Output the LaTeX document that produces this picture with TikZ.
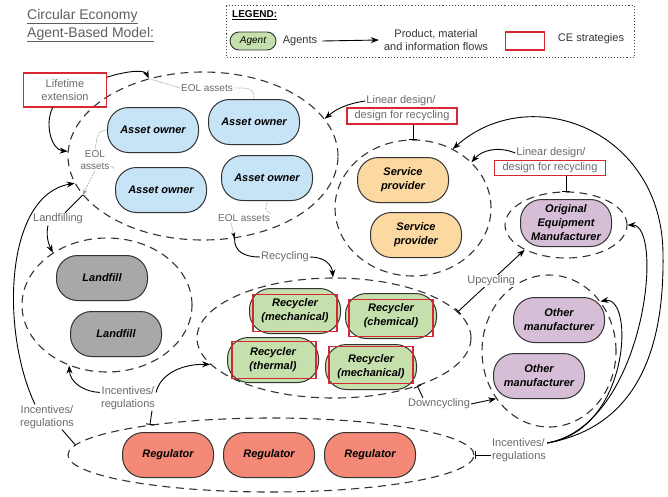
\documentclass[tikz,border=0pt]{standalone}
\usepackage{fontspec}
\setmainfont{Liberation Sans}
\usetikzlibrary{shapes.geometric,arrows.meta,calc}
\definecolor{aoblue}{RGB}{199,228,246}
\definecolor{sporange}{RGB}{252,217,160}
\definecolor{lfgray}{RGB}{168,168,168}
\definecolor{regreen}{RGB}{197,224,172}
\definecolor{mfpurple}{RGB}{214,191,214}
\definecolor{rgsalmon}{RGB}{244,137,120}
\definecolor{cered}{RGB}{214,40,50}
\definecolor{labgray}{RGB}{105,105,105}
\definecolor{titlegray}{RGB}{95,95,95}
\newcommand\agfont{\fontsize{11}{14}\selectfont\bfseries\itshape}
\newcommand\lbfont{\fontsize{11}{12.5}\selectfont}
\newcommand\eolfont{\fontsize{10}{11.5}\selectfont}
\tikzset{
  agent/.style={draw=black!80, line width=1pt, rounded corners=21pt, minimum width=91pt, minimum height=45pt, inner sep=1pt, align=center, font=\agfont},
  grp/.style={ellipse, draw=black!80, dash pattern=on 8pt off 5.5pt, line width=1.1pt, inner sep=0pt},
  lab/.style={font=\lbfont, text=labgray, align=center, inner sep=1pt},
  eol/.style={font=\eolfont, text=labgray, align=center, inner sep=1pt},
  cebox/.style={draw=cered, line width=1.1pt},
  arr/.style={-{Stealth[length=8pt,width=6pt]}, line width=0.9pt},
  blk/.style={line width=0.9pt},
  gline/.style={draw=gray!80, densely dotted, line width=0.8pt},
  bartip/.tip={Bar[width=8pt,line width=0.9pt]}
}
\begin{document}
\begin{tikzpicture}[x=1pt,y=-1pt]
\useasboundingbox (0,0) rectangle (668,496);

% title
\node[anchor=north west, font=\fontsize{14}{18}\selectfont, text=titlegray, align=left, inner sep=0] (T) at (27,9) {\underline{Circular Economy}\\\underline{Agent-Based Model:}};

% legend
\node[draw=black!70, dotted, line width=1.1pt, minimum width=408pt, minimum height=52pt, anchor=north west, inner sep=0] (LG) at (226,5) {};
\node[anchor=west, font=\fontsize{10}{12}\selectfont\bfseries, inner sep=0] (LGt) at (232,15) {\underline{LEGEND:}};
\node[agent, fill=regreen, minimum width=46pt, minimum height=18pt, rounded corners=9pt, font=\fontsize{10}{12}\selectfont\itshape, line width=0.9pt] (LA) at (253,41) {Agent};
\node[lab, text=black!80] (LAt) at (300,41) {Agents};
\node[lab, text=black!80] (LP) at (436,40) {Product, material\\and information flows};
\draw[arr] (LAt.east) ++(4,0) -- ($(LP.west)+(-4,0)$);
\node[cebox, minimum width=39pt, minimum height=18pt] (LC) at (525,41) {};
\node[lab, text=black!80] (LCt) at (591,39) {CE strategies};

% group ellipses
\node[grp, minimum width=270pt, minimum height=168pt] (AO) at (203,156) {};
\node[grp, minimum width=170pt, minimum height=134pt] (LF) at (107,305) {};
\node[grp, minimum width=274pt, minimum height=120pt] (RE) at (334,338) {};
\node[grp, minimum width=156pt, minimum height=136pt] (SP) at (413,208) {};
\node[grp, minimum width=122pt, minimum height=66pt] (OE) at (566,225) {};
\node[grp, minimum width=134pt, minimum height=152pt] (OM) at (549,351) {};
\node[grp, minimum width=406pt, minimum height=74pt] (RG) at (271,455) {};

% agents
\node[agent, fill=aoblue] (A1) at (153,130) {Asset owner};
\node[agent, fill=aoblue] (A2) at (254,122) {Asset owner};
\node[agent, fill=aoblue] (A3) at (161,190) {Asset owner};
\node[agent, fill=aoblue] (A4) at (267,178) {Asset owner};
\node[agent, fill=lfgray] (L1) at (102,278) {Landfill};
\node[agent, fill=lfgray] (L2) at (116,334) {Landfill};
\node[agent, fill=regreen] (R1) at (295,311) {Recycler\\(mechanical)};
\node[agent, fill=regreen] (R2) at (391,316) {Recycler\\(chemical)};
\node[agent, fill=regreen] (R3) at (273,360) {Recycler\\(thermal)};
\node[agent, fill=regreen] (R4) at (371,367) {Recycler\\(mechanical)};
\node[cebox, minimum width=84pt, minimum height=37pt, inner sep=0] (R1b) at ($(R1)+(0,2)$) {};
\node[cebox, minimum width=84pt, minimum height=37pt, inner sep=0] (R2b) at ($(R2)+(0,2)$) {};
\node[cebox, minimum width=84pt, minimum height=37pt, inner sep=0] (R3b) at ($(R3)+(1,0)$) {};
\node[cebox, minimum width=84pt, minimum height=37pt, inner sep=0] (R4b) at ($(R4)+(0,-2)$) {};
\node[agent, fill=sporange] (S1) at (403,180) {Service\\provider};
\node[agent, fill=sporange] (S2) at (416,235) {Service\\provider};
\node[agent, fill=mfpurple, minimum height=47pt] (OEM) at (566,223) {Original\\Equipment\\Manufacturer};
\node[agent, fill=mfpurple] (M1) at (559,320) {Other\\manufacturer};
\node[agent, fill=mfpurple] (M2) at (539,376) {Other\\manufacturer};
\node[agent, fill=rgsalmon] (G1) at (168,455) {Regulator};
\node[agent, fill=rgsalmon] (G2) at (269,455) {Regulator};
\node[agent, fill=rgsalmon] (G3) at (370,455) {Regulator};

% strategy boxes and labels
\node[cebox, lab, minimum width=83pt, minimum height=34pt] (LT) at (65,90) {Lifetime\\extension};
\node[lab] (LD1) at (401,101) {Linear design/};
\node[cebox, lab, minimum width=110pt, minimum height=16pt] (DR1) at (402,116) {design for recycling};
\node[lab] (LD2) at (551,153) {Linear design/};
\node[cebox, lab, minimum width=111pt, minimum height=15pt] (DR2) at (550,168) {design for recycling};
\node[eol] (E1) at (207,88) {EOL assets};
\node[eol] (E2) at (95,160) {EOL\\assets};
\node[eol] (E3) at (244,218) {EOL assets};
\node[lab] (LFL) at (58,219) {Landfilling};
\node[lab] (REC) at (285,257) {Recycling};
\node[lab] (DN) at (439,404) {Downcycling};
\node[lab, align=left] (IR) at (519,450) {Incentives/\\regulations};
\node[lab] (IM) at (128,398) {Incentives/\\regulations};
\node[lab] (IL) at (47,417) {Incentives/\\regulations};
\coordinate (IRs) at ($(IR.east)+(0,-7)$);

% lifetime extension
\draw[arr] (LT.17) .. controls (130,70) and (145,70) .. (AO.125);
\draw[arr] (LT.235) .. controls (44,125) and (52,150) .. (AO.178);
\draw[gline] (A2.north) .. controls (254,88) and (250,88) .. (E1.east);
\draw[gline] (E1.west) -- (AO.125);
\draw[gline] (A1.west) .. controls (97,130) and (97,138) .. (E2.north);
\draw[gline] ($(E2.east)+(0,6)$) -- (A3.155);
\draw[gline,-{Stealth[length=6pt,width=4pt]}] (E2.south) -- (AO.198);

% landfilling
\draw[blk] (AO.198) -- ($(LFL.north)+(7,0)$);
\draw[arr] ($(LFL.south)+(-10,0)$) .. controls (46,235) and (48,243) .. (LF.136);

% recycling
\draw[gline] (A4.south) .. controls (267,208) and (262,210) .. (E3.north east);
\draw[gline,-{Stealth[length=6pt,width=4pt,black]}] ($(E3.south west)+(14,0)$) -- (AO.291);
\draw[blk] (AO.291) .. controls (234,252) and (245,257) .. (REC.west);
\draw[arr] (REC.east) .. controls (325,257) and (332,265) .. (RE.91);

% linear design
\draw[arr] (LD1.west) .. controls (345,104) and (335,110) .. (AO.17);
\draw[blk,-bartip] (DR1.south -| SP.north) -- (SP.north);
\draw[arr] (LD2.west) .. controls (498,146) and (482,150) .. (SP.38);
\draw[blk,-bartip] (DR2.south -| OE.north) -- (OE.north);

% up / downcycling
\draw[blk,{bartip}-{Stealth[length=8pt,width=6pt]}] (RE.12) -- node[lab, fill=white, pos=0.5] (UP) {Upcycling} (OE.211);
\draw[blk,{bartip}-] (RE.330) -- ($(DN.north west)+(16,0)$);
\draw[arr] (DN.east) -- (OM.222);

% incentives / regulations
\draw[blk,{bartip}-] (RG.0) -- (RG.0 -| IR.west);
\draw[arr] (IRs) .. controls (645,425) and (665,225) .. (OE.0);
\draw[arr] (IRs) .. controls (630,430) and (635,295) .. (OM.44);
\draw[arr] (IRs) .. controls (648,425) and (664,330) .. (663,255) .. controls (663,130) and (530,80) .. (SP.56);
\draw[blk,-bartip] ($(IM.south)+(24,0)$) -- (RG.166);
\draw[arr] ($(IM.north west)+(0,7)$) .. controls (85,392) and (70,383) .. (LF.238);
\draw[arr] ($(IM.north east)+(0,7)$) .. controls (160,375) and (180,364) .. (RE.192);
\draw[blk] ($(IL.south)+(15,0)$) -- (RG.177);
\draw[arr] ($(IL.north)+(-12,0)$) .. controls (0,330) and (5,195) .. (AO.192);
\end{tikzpicture}
\end{document}
